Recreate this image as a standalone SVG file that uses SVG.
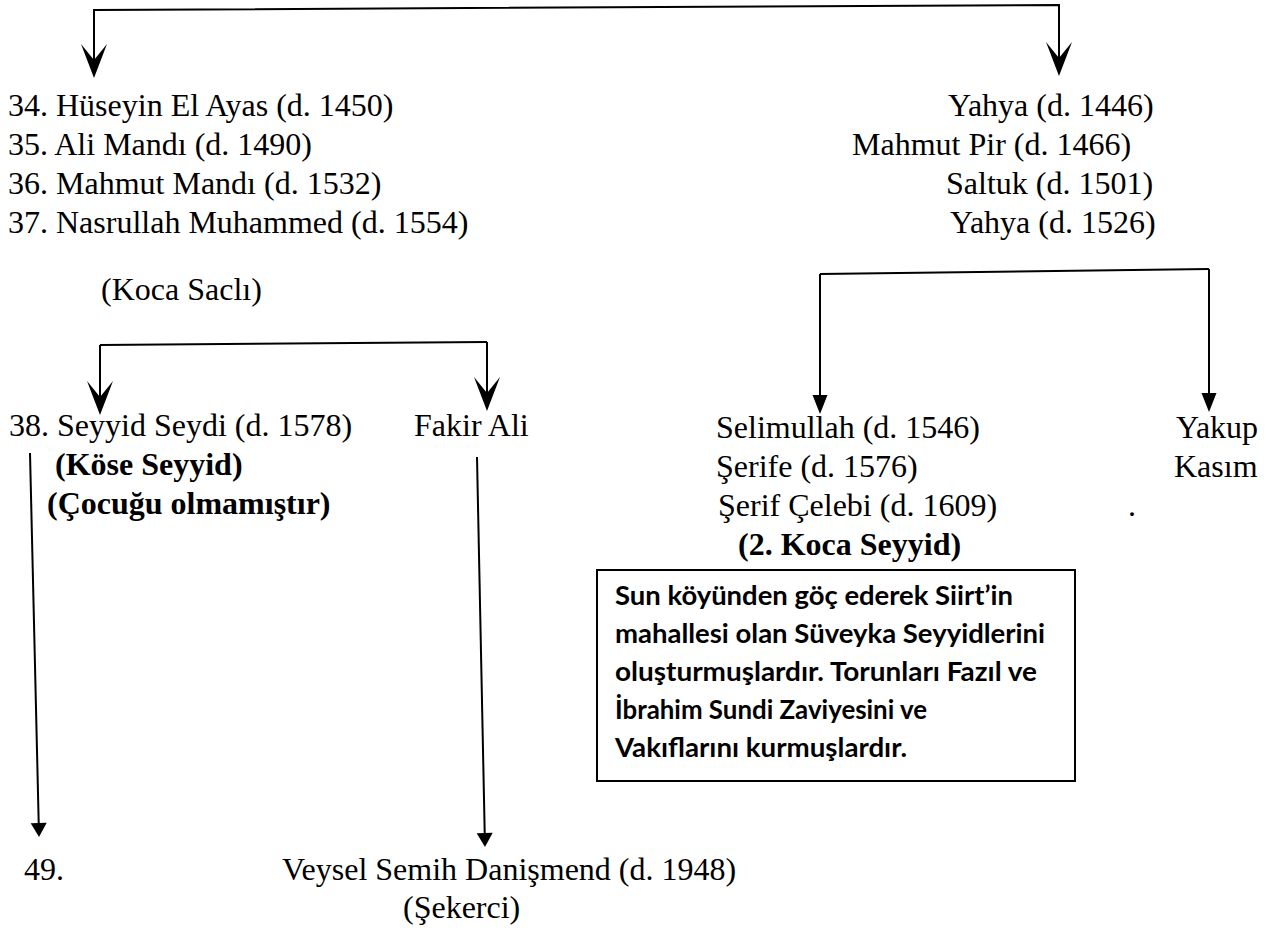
<svg xmlns="http://www.w3.org/2000/svg" width="1282" height="933" viewBox="0 0 1282 933">
<style>
  .t{font-family:"Liberation Serif","Times New Roman",serif;font-size:32px;fill:#000}
  .b{font-weight:bold}
  .bx{font-family:Lato,"Open Sans",sans-serif;font-size:26px;font-weight:bold;fill:#000}
  .ln{fill:none;stroke:#000;stroke-width:2}
</style>
<defs>
  <marker id="barb" markerUnits="userSpaceOnUse" viewBox="-2 -16 40 32" markerWidth="40" markerHeight="32" refX="16" refY="0" orient="auto" overflow="visible">
    <path d="M0,-13 L34,0 L0,13 L16,0 Z" fill="#000"/>
  </marker>
  <marker id="solid" markerUnits="userSpaceOnUse" viewBox="-2 -10 24 20" markerWidth="24" markerHeight="20" refX="0" refY="0" orient="auto" overflow="visible">
    <path d="M0,-7.5 L19,0 L0,7.5 Z" fill="#000"/>
  </marker>
  <marker id="solid2" markerUnits="userSpaceOnUse" viewBox="-2 -10 20 20" markerWidth="20" markerHeight="20" refX="0" refY="0" orient="auto" overflow="visible">
    <path d="M0,-8 L14,0 L0,8 Z" fill="#000"/>
  </marker>
</defs>
<rect width="1282" height="933" fill="#fff"/>

<g id="connectors">
  <path class="ln" d="M94,60 L94,10 L1059,5 L1059,58" marker-end="url(#barb)" marker-start="none"/>
  <path class="ln" d="M94,10 L94,60" marker-end="url(#barb)"/>
  <path class="ln" d="M100,345 L487,342"/>
  <path class="ln" d="M100,345 L100,397" marker-end="url(#barb)"/>
  <path class="ln" d="M487,342 L487,393" marker-end="url(#barb)"/>
  <path class="ln" d="M820,274 L1209,269"/>
  <path class="ln" d="M820,274 L820,395" marker-end="url(#solid)"/>
  <path class="ln" d="M1209,269 L1209,393" marker-end="url(#solid)"/>
  <path class="ln" d="M30,453 L38.7,823" marker-end="url(#solid2)"/>
  <path class="ln" d="M477,457 L484.7,833" marker-end="url(#solid2)"/>
</g>

<g id="n34"><text class="t" x="8" y="115.5">34. Hüseyin El Ayas (d. 1450)</text></g>
<g id="n35"><text class="t" x="8" y="154.5">35. Ali Mandı (d. 1490)</text></g>
<g id="n36"><text class="t" x="8" y="194">36. Mahmut Mandı (d. 1532)</text></g>
<g id="n37"><text class="t" x="8" y="233">37. Nasrullah Muhammed (d. 1554)</text></g>
<g id="kocasacli"><text class="t" x="101" y="300">(Koca Saclı)</text></g>

<g id="yahya1446"><text class="t" x="948" y="115.5">Yahya (d. 1446)</text></g>
<g id="mahmutpir"><text class="t" x="852" y="154.5">Mahmut Pir (d. 1466)</text></g>
<g id="saltuk"><text class="t" x="946" y="194">Saltuk (d. 1501)</text></g>
<g id="yahya1526"><text class="t" x="950" y="233">Yahya (d. 1526)</text></g>

<g id="n38">
  <text class="t" x="9" y="436">38. Seyyid Seydi (d. 1578)</text>
  <text class="t b" x="55" y="475">(Köse Seyyid)</text>
  <text class="t b" x="47" y="514">(Çocuğu olmamıştır)</text>
</g>
<g id="fakirali"><text class="t" x="414" y="436">Fakir Ali</text></g>

<g id="selimullah">
  <text class="t" x="716" y="438">Selimullah (d. 1546)</text>
  <text class="t" x="716" y="477">Şerife (d. 1576)</text>
  <text class="t" x="718" y="516">Şerif Çelebi (d. 1609)</text>
  <text class="t b" x="738" y="555">(2. Koca Seyyid)</text>
</g>
<g id="yakup">
  <text class="t" x="1176" y="438">Yakup</text>
  <text class="t" x="1174" y="477">Kasım</text>
  <text class="t" x="1128" y="516">.</text>
</g>

<g id="note">
  <rect x="597" y="570" width="478" height="211" fill="#fff" stroke="#000" stroke-width="2"/>
  <text class="bx" x="615" y="605" textLength="398" lengthAdjust="spacingAndGlyphs">Sun köyünden göç ederek Siirt’in</text>
  <text class="bx" x="615" y="643" textLength="430" lengthAdjust="spacingAndGlyphs">mahallesi olan Süveyka Seyyidlerini</text>
  <text class="bx" x="615" y="681" textLength="422" lengthAdjust="spacingAndGlyphs">oluşturmuşlardır. Torunları Fazıl ve</text>
  <text class="bx" x="615" y="719" textLength="312" lengthAdjust="spacingAndGlyphs">İbrahim Sundi Zaviyesini ve</text>
  <text class="bx" x="615" y="757" textLength="292" lengthAdjust="spacingAndGlyphs">Vakıflarını kurmuşlardır.</text>
</g>

<g id="n49"><text class="t" x="24" y="880">49.</text></g>
<g id="veysel">
  <text class="t" x="282" y="880">Veysel Semih Danişmend (d. 1948)</text>
  <text class="t" x="403" y="918">(Şekerci)</text>
</g>
</svg>
